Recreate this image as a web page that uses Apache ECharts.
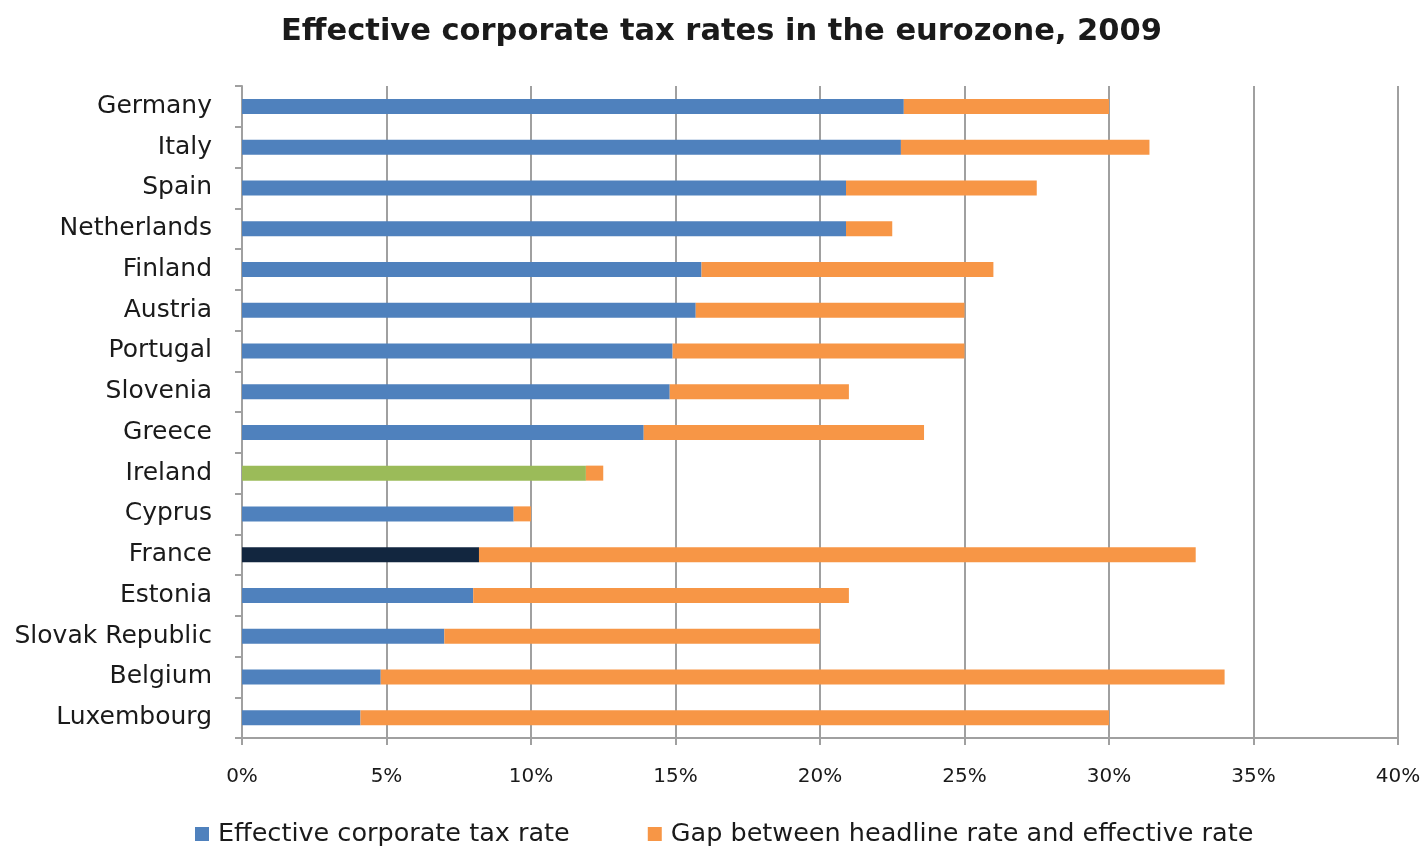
<!DOCTYPE html>
<html>
<head>
<meta charset="utf-8">
<script src="https://cdn.jsdelivr.net/npm/echarts@6/dist/echarts.min.js"></script>
<style>
html,body{margin:0;padding:0;background:#fff;}
#chart{width:1426px;height:846px;}
</style>
</head>
<body>
<div id="chart"></div>
<script>
var categories = ['Germany','Italy','Spain','Netherlands','Finland','Austria','Portugal','Slovenia','Greece','Ireland','Cyprus','France','Estonia','Slovak Republic','Belgium','Luxembourg'];
var effectiveRate = [22.9, 22.8, 20.9, 20.9, 15.9, 15.7, 14.9, 14.8, 13.9, 11.9, 9.4, 8.2, 8.0, 7.0, 4.8, 4.1];
var gapRate = [7.1, 8.6, 6.6, 1.6, 10.1, 9.3, 10.1, 6.2, 9.7, 0.6, 0.6, 24.8, 13.0, 13.0, 29.2, 25.9];
var xTicks = [0, 5, 10, 15, 20, 25, 30, 35, 40];
var highlightColors = { 'Ireland': '#9BBB59', 'France': '#12263F' };

var FONT = 'DejaVu Sans';
var TXT = '#1a1a1a';
var GRIDC = '#a0a0a0';

var effData = effectiveRate.map(function (v, i) {
  var c = highlightColors[categories[i]];
  return c ? { value: v, itemStyle: { color: c } } : v;
});

var chart = echarts.init(document.getElementById('chart'));
chart.setOption({
  animation: false,
  backgroundColor: '#ffffff',
  title: {
    text: 'Effective corporate tax rates in the eurozone, 2009',
    left: 276,
    top: 12,
    textStyle: { fontFamily: FONT, fontSize: 30.5, fontWeight: 'bold', color: TXT }
  },
  legend: {
    left: 190,
    top: 816,
    icon: 'rect',
    itemWidth: 14,
    itemHeight: 14,
    itemGap: 78,
    textStyle: { fontFamily: FONT, fontSize: 25.5, color: TXT, padding: [0, 0, 0, 4] },
    data: ['Effective corporate tax rate', 'Gap between headline rate and effective rate']
  },
  grid: { left: 242, right: 28, top: 86, bottom: 108, containLabel: false },
  xAxis: {
    type: 'value',
    min: xTicks[0],
    max: xTicks[xTicks.length - 1],
    interval: 5,
    axisLine: { show: true, lineStyle: { color: GRIDC, width: 2 } },
    axisTick: { show: true, length: 7, lineStyle: { color: GRIDC, width: 2 } },
    splitLine: { show: true, lineStyle: { color: GRIDC, width: 2 } },
    axisLabel: { formatter: '{value}%', margin: 29, fontFamily: FONT, fontSize: 20, color: TXT }
  },
  yAxis: {
    type: 'category',
    inverse: true,
    data: categories,
    axisLine: { show: true, lineStyle: { color: GRIDC, width: 2 } },
    axisTick: { show: true, length: 7, lineStyle: { color: GRIDC, width: 2 } },
    axisLabel: { margin: 30, fontFamily: FONT, fontSize: 25, color: TXT }
  },
  series: [
    {
      name: 'Effective corporate tax rate',
      type: 'bar',
      stack: 'total',
      barWidth: 15,
      itemStyle: { color: '#4F81BD' },
      data: effData
    },
    {
      name: 'Gap between headline rate and effective rate',
      type: 'bar',
      stack: 'total',
      barWidth: 15,
      itemStyle: { color: '#F79646' },
      data: gapRate
    }
  ]
});
</script>
</body>
</html>
